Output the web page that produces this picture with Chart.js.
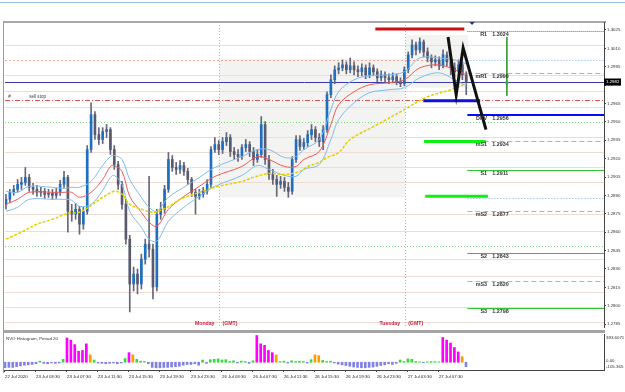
<!DOCTYPE html>
<html>
<head>
<meta charset="utf-8">
<script src="https://cdn.jsdelivr.net/npm/chart.js@4.4.1/dist/chart.umd.min.js"></script>
<style>
body{margin:0;background:#fff;width:625px;height:392px;overflow:hidden;position:relative}
#topline{position:absolute;left:0;top:2px;width:625px;height:1px;background:#9cc3e6}
#frame{position:absolute;left:3px;top:21px;width:602px;height:350px;border-left:1px solid #9a9a9a;border-top:2px solid #a8a8a8}
#sep{position:absolute;left:3px;top:330px;width:602px;height:3px;background:#a4a4a4}
#main{position:absolute;left:0;top:0}
#ind{position:absolute;left:0;top:332px}
</style>
</head>
<body>
<div id="topline"></div>
<div id="frame"></div>
<div id="sep"></div>
<canvas id="main" width="625" height="332"></canvas>
<canvas id="ind" width="625" height="60"></canvas>
<script>
// GBPUSD 30 min bars, 22 Jul 23:30 -> 27 Jul
var firstOpen = 1.28827;
var closes = [1.28868,1.28925,1.28949,1.28990,1.29006,1.29047,1.28966,1.28949,1.28925,1.28933,
  1.28909,1.28917,1.28900,1.28925,1.28990,1.29047,1.28770,1.28746,1.28787,1.28665,
  1.28770,1.29274,1.29559,1.29396,1.29356,1.29421,1.29437,1.29274,1.29152,1.28990,
  1.28827,1.28543,1.28177,1.28258,1.28177,1.28380,1.28502,1.28461,1.28153,1.28746,
  1.28787,1.28949,1.29193,1.29128,1.29112,1.29144,1.29096,1.29030,1.28925,1.28892,
  1.28909,1.28933,1.28990,1.29274,1.29315,1.29274,1.29339,1.29372,1.29258,1.29234,
  1.29217,1.29291,1.29315,1.29258,1.29193,1.29234,1.29478,1.29193,1.29071,1.29030,
  1.28990,1.29014,1.28966,1.28933,1.29193,1.29356,1.29299,1.29331,1.29396,1.29437,
  1.29372,1.29339,1.29437,1.29722,1.29844,1.29925,1.29941,1.29965,1.29925,1.29957,
  1.29925,1.29909,1.29941,1.29884,1.29941,1.29909,1.29860,1.29884,1.29860,1.29844,
  1.29868,1.29827,1.29811,1.29925,1.30047,1.30128,1.30087,1.30152,1.30071,1.30022,
  1.29990,1.30006,1.29957,1.30047,1.29990,1.29941,1.29909,1.29965,1.29884,1.29822];
var highs = [1.28909,1.28949,1.28982,1.29030,1.29047,1.29128,1.29071,1.28998,1.28982,1.28966,
  1.28957,1.28949,1.28949,1.28957,1.29022,1.29096,1.29063,1.28827,1.28835,1.28811,
  1.28803,1.29307,1.29656,1.29583,1.29453,1.29453,1.29478,1.29453,1.29307,1.29177,
  1.29014,1.28868,1.28575,1.28315,1.28299,1.28421,1.28543,1.29055,1.28502,1.28787,
  1.28844,1.28982,1.29250,1.29226,1.29169,1.29185,1.29169,1.29120,1.29047,1.28949,
  1.28949,1.28966,1.29030,1.29299,1.29372,1.29348,1.29372,1.29413,1.29396,1.29291,
  1.29274,1.29315,1.29356,1.29339,1.29291,1.29274,1.29543,1.29502,1.29226,1.29112,
  1.29063,1.29055,1.29047,1.29006,1.29217,1.29388,1.29388,1.29364,1.29429,1.29478,
  1.29461,1.29405,1.29470,1.29746,1.29884,1.29957,1.29982,1.30006,1.29990,1.30022,
  1.29990,1.29957,1.29974,1.29965,1.29982,1.29965,1.29933,1.29917,1.29909,1.29892,
  1.29900,1.29892,1.29860,1.29949,1.30071,1.30169,1.30152,1.30185,1.30169,1.30104,
  1.30047,1.30039,1.30030,1.30087,1.30071,1.30022,1.29982,1.30006,1.29990,1.29909];
var lows = [1.28787,1.28844,1.28900,1.28925,1.28949,1.28982,1.28933,1.28909,1.28892,1.28892,
  1.28876,1.28884,1.28868,1.28876,1.28900,1.28966,1.28600,1.28689,1.28705,1.28583,
  1.28624,1.28746,1.29250,1.29356,1.29315,1.29323,1.29372,1.29234,1.29112,1.28949,
  1.28787,1.28502,1.27949,1.28120,1.28096,1.28136,1.28339,1.28396,1.28055,1.28120,
  1.28705,1.28754,1.28925,1.29096,1.29071,1.29079,1.29063,1.28990,1.28892,1.28746,
  1.28868,1.28884,1.28909,1.28966,1.29250,1.29234,1.29242,1.29307,1.29217,1.29193,
  1.29177,1.29193,1.29258,1.29217,1.29144,1.29169,1.29209,1.29152,1.29030,1.28990,
  1.28892,1.28957,1.28933,1.28884,1.28909,1.29169,1.29266,1.29274,1.29299,1.29356,
  1.29339,1.29299,1.29274,1.29413,1.29697,1.29811,1.29892,1.29917,1.29892,1.29900,
  1.29884,1.29868,1.29876,1.29852,1.29860,1.29876,1.29827,1.29835,1.29827,1.29811,
  1.29819,1.29803,1.29787,1.29795,1.29900,1.30022,1.30047,1.30063,1.30030,1.29990,
  1.29941,1.29957,1.29925,1.29941,1.29957,1.29884,1.29868,1.29884,1.29844,1.29722];

// moving average + envelope, read at these bars
var maIdx = [0,3,6,12,15,17,19,22,25,27,28,30,32,35,37,39,42,46,50,54,61,65,68,72,75,77,81,84,86,90,94,99,103,107,112,116,119];
var maMid = [1.28827,1.28868,1.28925,1.28925,1.28925,1.28925,1.28884,1.28925,1.29030,1.29136,
  1.29144,1.29096,1.28892,1.28762,1.28681,1.28648,1.28787,1.28892,1.28974,1.29055,
  1.29136,1.29217,1.29193,1.29136,1.29136,1.29193,1.29258,1.29478,1.29640,1.29746,
  1.29803,1.29819,1.29844,1.29941,1.29965,1.29925,1.29884];
var maUp = [1.28933,1.28925,1.28974,1.28966,1.28957,1.28966,1.28966,1.29014,1.29144,1.29217,
  1.29226,1.29193,1.29030,1.28884,1.28803,1.28770,1.28884,1.28966,1.29047,1.29128,
  1.29217,1.29274,1.29274,1.29209,1.29217,1.29274,1.29356,1.29600,1.29746,1.29844,
  1.29876,1.29884,1.29909,1.30022,1.30022,1.30006,1.29974];
var maLow = [1.28770,1.28803,1.28868,1.28868,1.28868,1.28860,1.28811,1.28827,1.28941,1.29047,
  1.29063,1.28990,1.28770,1.28640,1.28543,1.28526,1.28689,1.28803,1.28892,1.28974,
  1.29063,1.29144,1.29112,1.29063,1.29055,1.29112,1.29152,1.29356,1.29518,1.29656,
  1.29738,1.29762,1.29779,1.29860,1.29900,1.29844,1.29795];
var slowIdx = [0,4,8,12,16,19,22,25,28,30,32,35,38,40,43,45,50,55,61,64,68,72,76,78,81,83,86,89,96,103,109,115,119];
var slowMa = [1.28543,1.28600,1.28665,1.28705,1.28754,1.28762,1.28819,1.28884,1.28933,1.28909,
  1.28827,1.28787,1.28762,1.28779,1.28827,1.28868,1.28925,1.28974,1.29014,1.29047,
  1.29079,1.29071,1.29096,1.29136,1.29169,1.29209,1.29250,1.29356,1.29478,1.29600,
  1.29705,1.29762,1.29811];

// NVO histogram, one value per bar
var nvo = [-75,-70,-70,-60,-50,-40,-35,-30,-20,15,
  -15,-20,-10,-15,-10,40,330,300,240,150,
  160,250,100,30,-10,-15,-20,-15,-10,-20,
  -10,50,130,100,40,15,10,-20,-70,-75,
  -75,-70,-70,-65,-60,-55,-40,-30,-30,-20,
  -40,30,-15,35,40,45,30,35,10,20,
  -10,15,10,-15,20,363,250,230,160,130,
  100,10,15,-10,20,10,15,10,-10,35,
  100,90,25,10,15,-10,-25,-35,-45,-55,
  -65,-70,-75,-75,-70,-65,-55,-45,-35,-20,
  -30,-15,30,10,45,40,10,5,-5,5,
  10,8,5,336,300,260,200,140,75,-60];
var nvoMax = 383.6071, nvoMin = -105.365;
var nvoTitle = 'NVO Histogram, Period 20';

var xLabels = ['22 Jul 2020','23 Jul 03:30','23 Jul 07:30','23 Jul 11:30','23 Jul 15:30','23 Jul 19:30','23 Jul 23:30',
  '26 Jul 03:30','26 Jul 07:30','26 Jul 11:30','26 Jul 15:30','26 Jul 19:30','26 Jul 23:30','27 Jul 03:30','27 Jul 07:30'];
var yTicks = [1.3025,1.3010,1.2995,1.2980,1.2965,1.2950,1.2935,1.2920,1.2905,1.2890,1.2875,1.2860,1.2845,1.2830,1.2815,1.2800,1.2785];

// pivots for the new day
var pivotNames = ['R1','mR1','DPV','mS1','S1','mS2','S2','mS3','S3'];
var pivotValues = [1.3024,1.2990,1.2956,1.2934,1.2911,1.2877,1.2843,1.2820,1.2798];
var pivotStart = 119.3;
var sellStop = 1.2968;
var levelLines = [1.30128,1.29884,1.29754,1.29624,1.29380,1.29258,1.29128,1.29006,1.28746,1.28608,1.28380,1.28242,1.28112,1.27990,1.27868];
var greenLevels = [1.29502,1.28486];
var salmonLevel = 1.30006;
var blueDotLevels = [1.30006,1.28876];

// drawn objects
var segPrice = [1.30258,1.29673,1.29339,1.28892];
var segFrom = [95.5,107.9,108.1,108.4];
var segTo = [118.5,122.6,124.1,124.6];
var zigIdx = [114.3,116.4,118.2,124.1];
var zigPrice = [1.30193,1.29722,1.30104,1.29437];
var vIdx = 129.5, vTop = 1.30193, vBot = 1.29713, vDot = 1.29819;

// sessions
var dayNames = ['Monday','Tuesday'];
var sepIdx = [55.2,103.2];
var shadeFrom = [55.0,103.2], shadeTo = [103.2,119.5];
var shadeHi = [1.30014,1.30209], shadeLo = [1.28884,1.29779];

var xMin = -0.258, xMax = 154.62;
var yMin = 1.27826, yMax = 1.30315;

Chart.defaults.font.family = '"Liberation Sans", Arial, sans-serif';
Chart.defaults.font.size = 4.4;

var opens = closes.map(function(c, i) { return i ? closes[i - 1] : firstOpen; });
var bid = closes[closes.length - 1];

function hl(c, x1, x2, y, color, width, dash) {
  c.beginPath();
  c.strokeStyle = color; c.lineWidth = width; c.setLineDash(dash || []);
  y = Math.round(y) + (width % 2 ? 0.5 : 0);
  c.moveTo(x1, y); c.lineTo(x2, y); c.stroke();
}

var overlay = {
  id: 'overlay',
  beforeDatasetsDraw: function(chart) {
    var c = chart.ctx, a = chart.chartArea, sx = chart.scales.x, sy = chart.scales.y;
    c.save();
    c.beginPath(); c.rect(a.left, a.top, a.width, a.height); c.clip();
    c.fillStyle = '#f3f3f1';
    for (var k = 0; k < shadeFrom.length; k++) {
      var x1 = sx.getPixelForValue(shadeFrom[k]), x2 = sx.getPixelForValue(shadeTo[k]);
      var y1 = sy.getPixelForValue(shadeHi[k]), y2 = sy.getPixelForValue(shadeLo[k]);
      c.fillRect(x1, y1, x2 - x1, y2 - y1);
    }
    levelLines.forEach(function(p) { hl(c, a.left, a.right, sy.getPixelForValue(p), '#eedbd4', 1); });
    greenLevels.forEach(function(p) { hl(c, a.left, a.right, sy.getPixelForValue(p), '#7fe07f', 1, [1, 2]); });
    var ps = sx.getPixelForValue(pivotStart);
    hl(c, a.left, ps, sy.getPixelForValue(salmonLevel), '#f2a88c', 1, [2, 2]);
    blueDotLevels.forEach(function(p) { hl(c, ps, a.right, sy.getPixelForValue(p), '#78aee4', 1, [1, 2]); });
    // day separators
    c.strokeStyle = '#c9bd6c'; c.lineWidth = 1; c.setLineDash([1, 2]);
    sepIdx.forEach(function(s) {
      var x = Math.round(sx.getPixelForValue(s)) + 0.5;
      c.beginPath(); c.moveTo(x, a.top); c.lineTo(x, a.bottom); c.stroke();
    });
    hl(c, a.left, a.right, sy.getPixelForValue(sellStop), '#e05050', 1, [5, 2, 1, 2]);
    hl(c, a.left, a.right, sy.getPixelForValue(bid), '#3a3aa6', 1);
    pivotNames.forEach(function(n, k) {
      var y = sy.getPixelForValue(pivotValues[k]);
      if (n[0] === 'R') hl(c, ps, a.right, y, '#e03a3a', 1, [1, 1]);
      else if (n[0] === 'm') hl(c, ps, a.right, y, '#c8b46e', 1, [5, 3]);
      else if (n[0] === 'S') hl(c, ps, a.right, y, '#33c433', 1);
      else hl(c, ps, a.right, y, '#0a0aff', 2);
    });
    c.restore();
  },
  afterDatasetsDraw: function(chart) {
    var c = chart.ctx, a = chart.chartArea, sx = chart.scales.x, sy = chart.scales.y;
    c.save();
    c.setLineDash([]);
    c.font = 'bold 5.4px "Liberation Sans"';
    c.fillStyle = '#333';
    c.textBaseline = 'middle';
    pivotNames.forEach(function(n, k) {
      var y = sy.getPixelForValue(pivotValues[k]) + 3.5;
      c.textAlign = 'right';
      c.fillText(n, sx.getPixelForValue(pivotStart + 5.1), y);
      c.textAlign = 'left';
      c.fillText(pivotValues[k].toFixed(4), sx.getPixelForValue(pivotStart + 6.4), y);
    });
    c.font = '4.6px "Liberation Sans"';
    c.fillStyle = '#444';
    c.textAlign = 'left';
    c.textBaseline = 'bottom';
    var ys = sy.getPixelForValue(sellStop) - 1;
    c.fillText('#', sx.getPixelForValue(0.6), ys);
    c.fillText('sell stop', sx.getPixelForValue(6), ys);
    c.font = 'bold 5.2px "Liberation Sans"';
    c.fillStyle = '#cc1f3c';
    c.textBaseline = 'middle';
    sepIdx.forEach(function(s, k) {
      var x = sx.getPixelForValue(s);
      c.textAlign = 'right';
      c.fillText(dayNames[k], x - 5, a.bottom - 3);
      c.textAlign = 'left';
      c.fillText('(GMT)', x + 3, a.bottom - 3);
    });
    c.restore();
  },
  afterDraw: function(chart) {
    var c = chart.ctx, a = chart.chartArea, sx = chart.scales.x, sy = chart.scales.y;
    var y = sy.getPixelForValue(bid);
    c.save();
    c.fillStyle = '#000';
    c.fillRect(a.right, Math.round(y) - 3.5, 17, 7);
    c.fillStyle = '#fff';
    c.font = '4.4px "Liberation Sans"';
    c.textAlign = 'left'; c.textBaseline = 'middle';
    c.fillText(bid.toFixed(4), a.right + 2, Math.round(y));
    // new-bar marker
    var tx = sx.getPixelForValue(closes.length + 0.5);
    c.fillStyle = '#1a2a8a';
    c.beginPath(); c.moveTo(tx - 2.5, a.top); c.lineTo(tx + 2.5, a.top); c.lineTo(tx, a.top + 3); c.closePath(); c.fill();
    c.restore();
  }
};

function pts(idx, vals) { return idx.map(function(i, k) { return {x: i, y: vals[k]}; }); }
function lineSet(data, color, width, order, dash) {
  return {type: 'line', data: data, borderColor: color, borderWidth: width, borderDash: dash || [],
    pointRadius: 0, fill: false, tension: 0.35, order: order};
}

var datasets = [];
datasets.push(Object.assign(lineSet(pts(zigIdx, zigPrice), '#111111', 3, 0), {tension: 0}));
datasets.push(Object.assign(lineSet([{x: vIdx, y: vTop}, {x: vIdx, y: vBot}], '#3c9c3c', 1, 0), {tension: 0}));
datasets.push({type: 'line', data: [{x: vIdx, y: vDot}], showLine: false, pointRadius: 1.6, pointStyle: 'rect',
  backgroundColor: '#22ee22', borderColor: '#22ee22', order: 0});
var segColors = ['#cc1111', '#1010dd', '#11ee11', '#11ee11'];
segPrice.forEach(function(p, k) {
  datasets.push(Object.assign(lineSet([{x: segFrom[k], y: p}, {x: segTo[k], y: p}], segColors[k], 3, 1), {tension: 0}));
});
datasets.push(lineSet(pts(slowIdx, slowMa), '#e2d000', 1.5, 2, [3, 1.5]));
datasets.push(lineSet(pts(maIdx, maMid), '#f05a5a', 1, 3));
datasets.push(lineSet(pts(maIdx, maUp), '#80bbf0', 1, 4));
datasets.push(lineSet(pts(maIdx, maLow), '#80bbf0', 1, 4));
datasets.push({
  type: 'bar', order: 5, grouped: false, barThickness: 2, minBarLength: 1,
  data: closes.map(function(c, i) { return {x: i, y: [opens[i], c]}; }),
  backgroundColor: closes.map(function(c, i) { return c >= opens[i] ? '#1e6fc0' : '#5a5a6e'; })
});
datasets.push({
  type: 'bar', order: 6, grouped: false, barThickness: 1,
  data: closes.map(function(c, i) { return {x: i, y: [lows[i], highs[i]]}; }),
  backgroundColor: '#66667a'
});

new Chart(document.getElementById('main'), {
  type: 'bar',
  data: {datasets: datasets},
  options: {
    responsive: false, animation: false, events: [],
    layout: {padding: {left: 4, top: 22, right: 0, bottom: 4}},
    plugins: {legend: {display: false}, tooltip: {enabled: false}},
    scales: {
      x: {type: 'linear', min: xMin, max: xMax, offset: false, display: false},
      y: {
        position: 'right', min: yMin, max: yMax,
        afterBuildTicks: function(s) { s.ticks = yTicks.map(function(v) { return {value: v}; }); },
        afterFit: function(s) { s.width = 21; },
        ticks: {autoSkip: false, padding: 1, color: '#333', callback: function(v) { return v.toFixed(4); }},
        grid: {drawOnChartArea: false, tickLength: 2, color: '#444'},
        border: {color: '#444'}
      }
    }
  },
  plugins: [overlay]
});

function nvoColor(v) {
  if (v < 0) return '#8282e6';
  if (v < 65) return '#33dd33';
  if (v < 120) return '#ff9a00';
  return '#ff00ff';
}

var indText = {
  id: 'indText',
  afterDraw: function(chart) {
    var c = chart.ctx, a = chart.chartArea, sy = chart.scales.y;
    c.save();
    c.font = '4.4px "Liberation Sans"';
    c.fillStyle = '#333';
    c.textAlign = 'left'; c.textBaseline = 'middle';
    c.fillText(nvoTitle, a.left + 2, a.top + 5);
    c.fillText(nvoMax.toFixed(4), a.right + 2, sy.getPixelForValue(nvoMax) + 4);
    c.fillText('0.00', a.right + 2, sy.getPixelForValue(0) - 1);
    c.fillText(nvoMin.toFixed(3), a.right + 2, sy.getPixelForValue(nvoMin) - 3);
    c.restore();
  }
};

new Chart(document.getElementById('ind'), {
  type: 'bar',
  data: {datasets: [{
    data: nvo.map(function(v, i) { return {x: i, y: v}; }),
    backgroundColor: nvo.map(nvoColor),
    barThickness: 2, grouped: false
  }]},
  options: {
    responsive: false, animation: false, events: [],
    layout: {padding: {left: 4, top: 2, right: 0, bottom: 0}},
    plugins: {legend: {display: false}, tooltip: {enabled: false}},
    scales: {
      x: {
        type: 'linear', min: xMin, max: xMax, offset: false,
        afterBuildTicks: function(s) { s.ticks = xLabels.map(function(t, k) { return {value: k * 8}; }); },
        afterFit: function(s) { s.height = 22; },
        ticks: {autoSkip: false, maxRotation: 0, align: 'start', padding: 2, color: '#222',
          callback: function(v, i) { return xLabels[i]; }},
        grid: {drawOnChartArea: false, offset: false, tickLength: 2, color: '#444'},
        border: {color: '#444'}
      },
      y: {
        position: 'right', min: nvoMin, max: nvoMax,
        afterFit: function(s) { s.width = 21; },
        ticks: {display: false},
        grid: {display: false},
        border: {color: '#444'}
      }
    }
  },
  plugins: [indText]
});
</script>
</body>
</html>
